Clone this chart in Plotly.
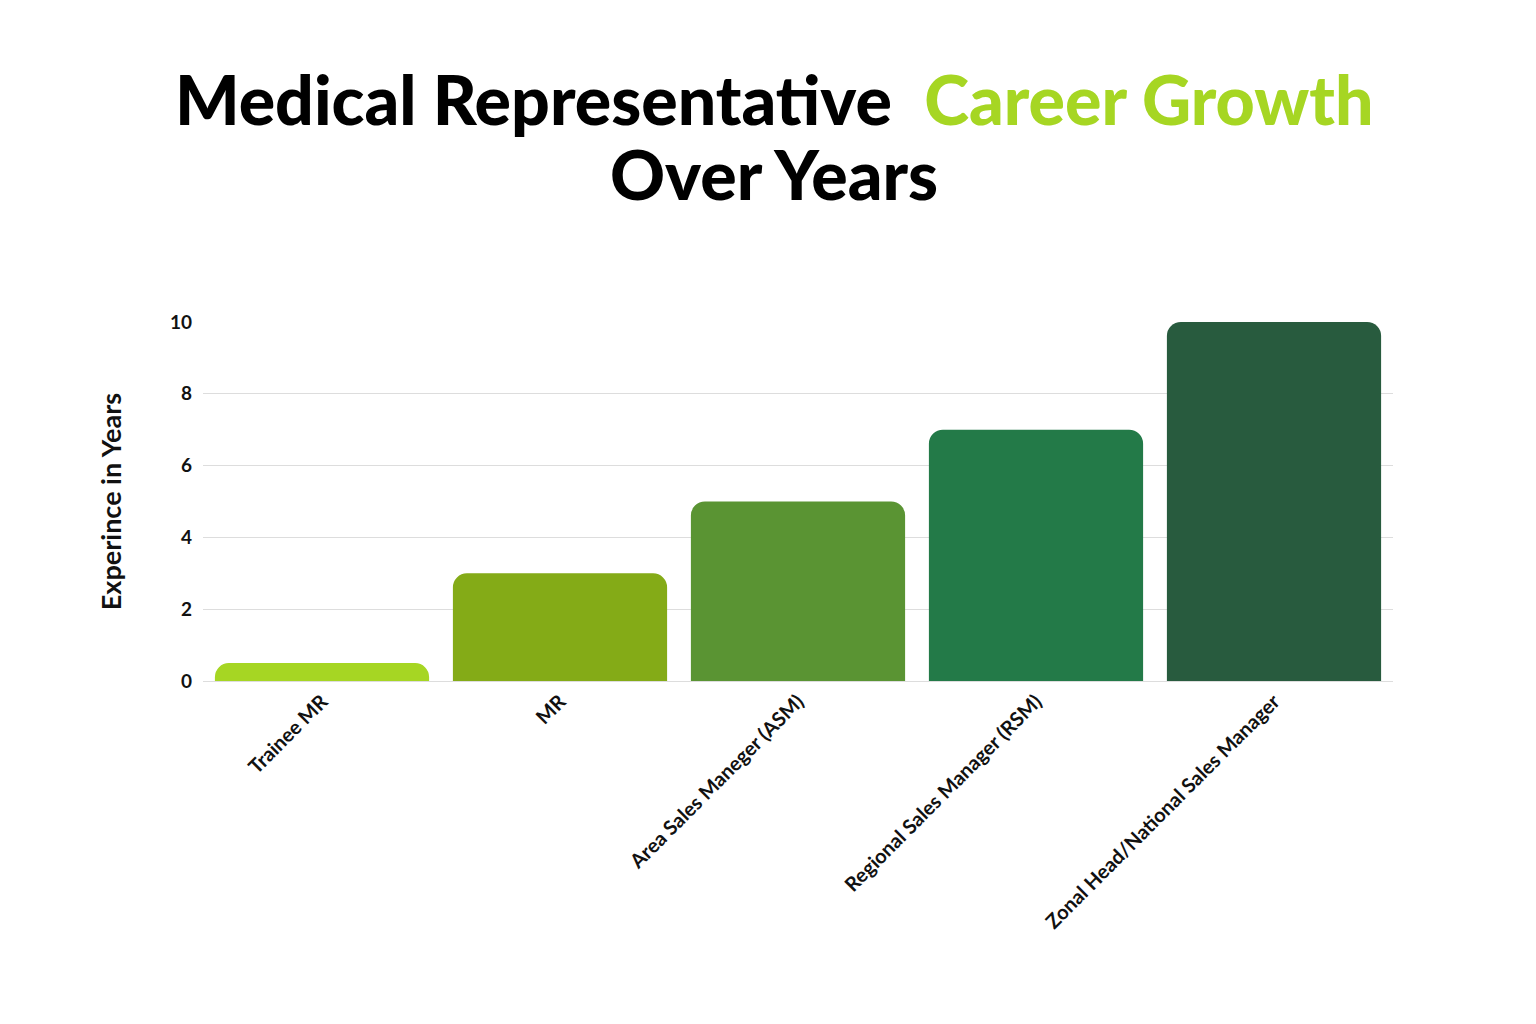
import plotly.graph_objects as go

categories = ["Trainee MR", "MR", "Area Sales Maneger (ASM)", "Regional Sales Manager (RSM)", "Zonal Head/National Sales Manager"]
years = [0.5, 3, 5, 7, 10]
colors = ["#a6d623", "#84ab17", "#5a9433", "#237a48", "#285b3e"]

fig = go.Figure(go.Bar(x=categories, y=years, marker=dict(color=colors, cornerradius=14, line=dict(width=0)), width=0.9))
fig.update_layout(
    width=1536, height=1024, plot_bgcolor="white", paper_bgcolor="white",
    margin=dict(l=195, r=151, t=314, b=351, autoexpand=False),
    font=dict(family="Lato", color="#111"),
    showlegend=False,
)
fig.add_annotation(text="Medical Representative  <span style='color:#a6d623'>Career Growth</span>",
                   xref="paper", yref="paper", x=0.5, y=(1024-90)/1024 - (314-0)/1024 * 0 , showarrow=False,
                   font=dict(size=68, color="#000", weight=900), yanchor="middle")
fig.add_annotation(text="Over Years", xref="paper", yref="paper", x=0.5, y=0, showarrow=False,
                   font=dict(size=68, color="#000", weight=900), yanchor="middle")
# convert pixel y to paper coords
ph = 1024 - 314 - 351
fig.layout.annotations[0].y = (1024 - 351 - 90) / ph
fig.layout.annotations[1].y = (1024 - 351 - 165) / ph
fig.layout.annotations[0].x = (766 - 195) / (1536 - 195 - 151)
fig.layout.annotations[1].x = (766 - 195) / (1536 - 195 - 151)
fig.update_yaxes(range=[0, 10], dtick=2, gridcolor="#dddddd", zeroline=False, automargin=False,
                 tickfont=dict(size=19, family="Lato", weight="bold"), ticks="", ticklabelstandoff=10,
                 title=dict(text="<b>Experince in Years</b>", font=dict(size=27), standoff=40))
fig.update_xaxes(tickangle=-45, tickfont=dict(size=20, weight="bold"), showline=True, linecolor="#dddddd", automargin=False)
fig.write_html("out.html")
